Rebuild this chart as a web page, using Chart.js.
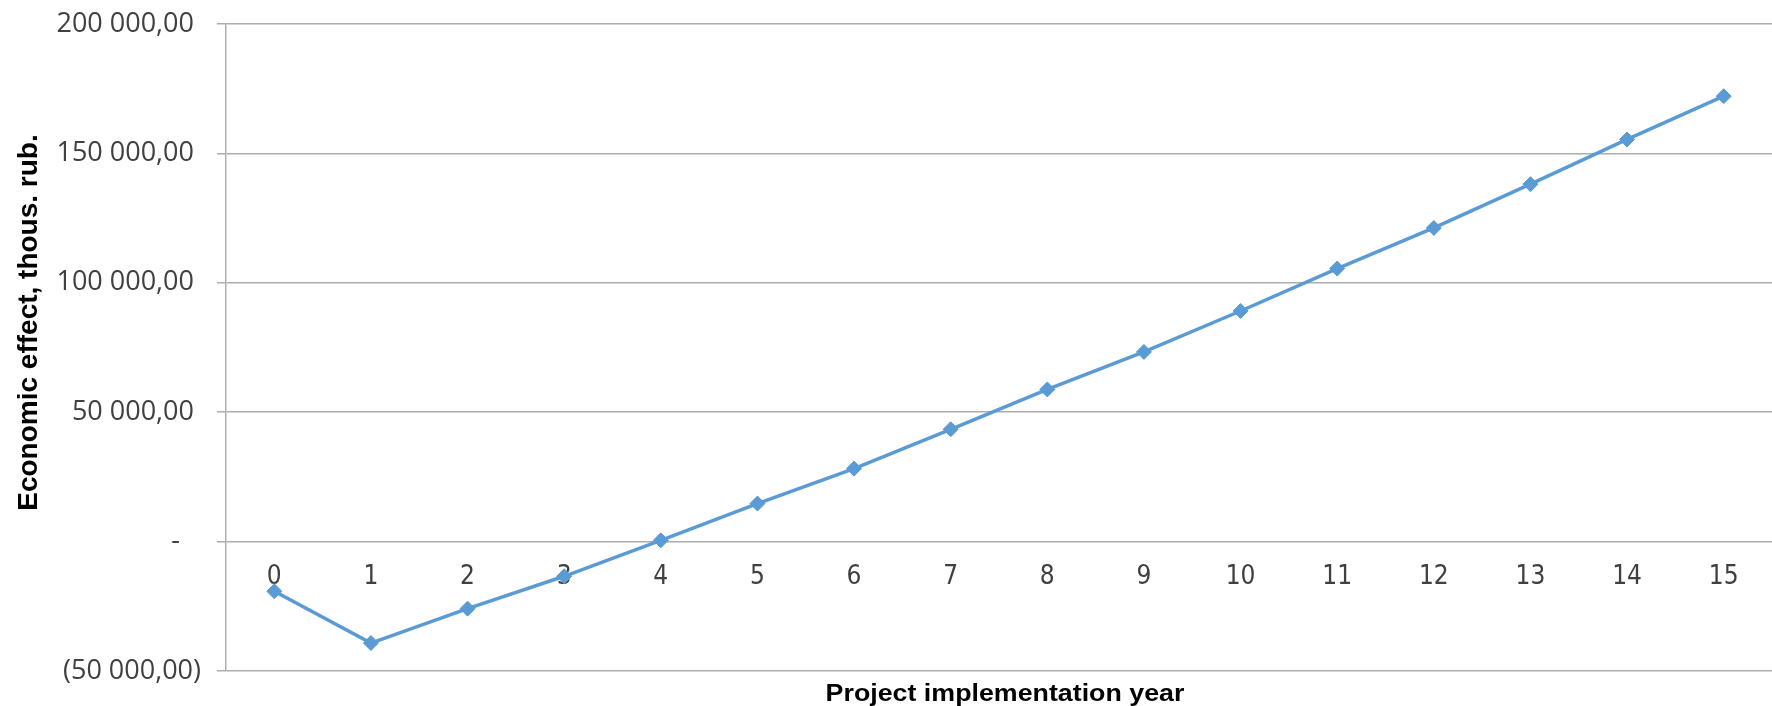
<!DOCTYPE html>
<html>
<head>
<meta charset="utf-8">
<script src="https://cdn.jsdelivr.net/npm/chart.js@4"></script>
<style>
  html, body { margin:0; padding:0; background:#fff; }
  .wrap { width:1772px; height:706px; position:relative; }
</style>
</head>
<body>
<div class="wrap"><canvas id="chart"></canvas></div>
<script>
// data
const years  = ['0','1','2','3','4','5','6','7','8','9','10','11','12','13','14','15'];
const effect = [-19200, -39200, -25900, -13400, 500, 14700, 28200, 43400, 58800, 73300, 89100, 105500, 121200, 138100, 155400, 172100];
const yMin = -50000, yMax = 200000, yStep = 50000;

const yTitle = 'Economic effect, thous. rub.';
const xTitle = 'Project implementation year';

const lineColor = '#5B9BD5';
const gridColor = '#ADADAD';
const tickColor = '#404040';

// excel accounting style: 150 000,00 / (50 000,00) / -
function fmt(v) {
  if (v === 0) return '-   ';
  const s = Math.abs(v).toFixed(2).replace('.', ',').replace(/\B(?=(\d{3})+(?!\d))/g, ' ');
  return v < 0 ? `(${s})` : s + ' ';
}

// titles drawn by hand so they can sit where the original has them
const axisTitles = {
  id: 'axisTitles',
  afterDraw(chart) {
    const { ctx, chartArea } = chart;
    ctx.save();
    ctx.fillStyle = '#000';
    ctx.textAlign = 'center';
    ctx.textBaseline = 'alphabetic';
    ctx.font = 'bold 28px "Liberation Sans", Arial, sans-serif';
    ctx.translate(37, (chartArea.top + chartArea.bottom) / 2 - 25);
    ctx.rotate(-Math.PI / 2);
    ctx.fillText(yTitle, 0, 0);
    ctx.restore();

    ctx.save();
    ctx.fillStyle = '#000';
    ctx.textAlign = 'center';
    ctx.textBaseline = 'alphabetic';
    ctx.font = 'bold 23.5px "Liberation Sans", Arial, sans-serif';
    ctx.translate((chartArea.left + chartArea.right) / 2 + 6, chartArea.bottom + 30);
    ctx.scale(1.14, 1);
    ctx.fillText(xTitle, 0, 0);
    ctx.restore();
  }
};

new Chart(document.getElementById('chart'), {
  type: 'line',
  data: {
    labels: years,
    datasets: [{
      data: effect,
      borderColor: lineColor,
      backgroundColor: lineColor,
      borderWidth: 3.5,
      pointStyle: 'rectRot',
      pointRadius: 7.5,
      pointBorderWidth: 1,
      pointBackgroundColor: lineColor,
      tension: 0,
      fill: false
    }]
  },
  options: {
    responsive: true,
    maintainAspectRatio: false,
    animation: false,
    layout: { autoPadding: false, padding: { top: 24, bottom: 35, left: 0, right: 0 } },
    plugins: { legend: { display: false }, tooltip: { enabled: false } },
    scales: {
      x: {
        type: 'category',
        offset: true,
        position: { y: 0 },
        grid: { display: false, drawTicks: false },
        border: { display: false },
        ticks: {
          color: tickColor,
          font: { family: '"DejaVu Sans Condensed", "DejaVu Sans", sans-serif', size: 26 },
          padding: 20, maxRotation: 0, autoSkip: false
        },
        afterFit: s => { s.paddingLeft = 0; s.paddingRight = 0; }
      },
      y: {
        min: yMin, max: yMax,
        grid: { color: gridColor, lineWidth: 1.5, tickLength: 9 },
        border: { color: gridColor, width: 1.5 },
        ticks: {
          stepSize: yStep,
          color: tickColor,
          font: { family: '"Open Sans", "Noto Sans", sans-serif', size: 27 },
          padding: 16,
          callback: v => fmt(v)
        },
        afterFit: s => { s.width = 226; s.paddingTop = 0; s.paddingBottom = 0; }
      }
    }
  },
  plugins: [axisTitles]
});
</script>
</body>
</html>
